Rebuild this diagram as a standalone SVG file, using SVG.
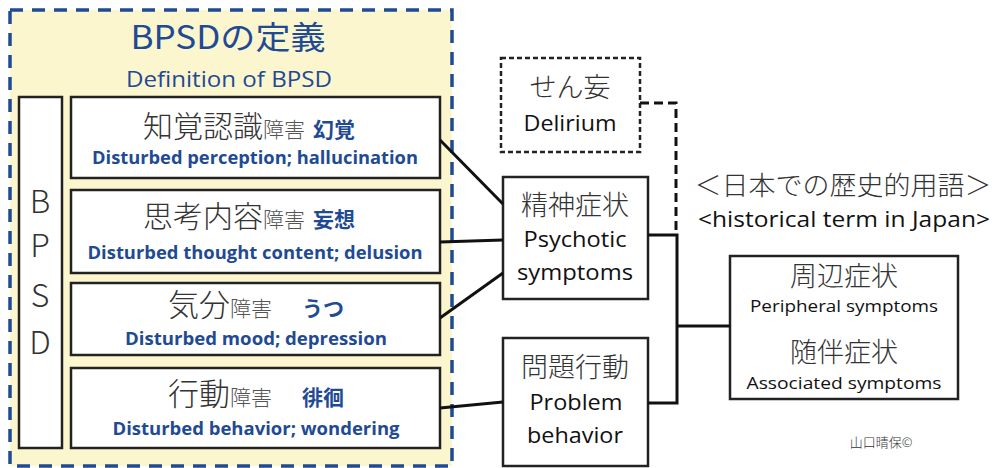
<svg xmlns="http://www.w3.org/2000/svg" width="995" height="468" viewBox="0 0 995 468">
<style>
.box{fill:#fff;stroke:#222;stroke-width:2.5}
.jp{font-family:"Noto Sans CJK JP",sans-serif;font-weight:300;fill:#333;text-anchor:middle}
.en{font-family:"Open Sans","Noto Sans",sans-serif;fill:#111;text-anchor:middle}
.enb{font-family:"Open Sans","Noto Sans",sans-serif;font-weight:bold;fill:#1f4a94;text-anchor:middle}
.blue{fill:#1f4a94}
.conn{stroke:#111;stroke-width:3;fill:none}
</style>
<rect width="995" height="468" fill="#fff"/>
<g id="definition">
<rect x="10" y="10" width="442" height="456" fill="#fcf6cf" stroke="#1f4a94" stroke-width="3.5" stroke-dasharray="13 9"/>
<text x="228" y="49" font-family="Noto Sans CJK JP,sans-serif" font-size="32" class="blue" text-anchor="middle" textLength="195" lengthAdjust="spacingAndGlyphs">BPSDの定義</text>
<text x="229" y="87" font-family="Open Sans,sans-serif" font-size="21" class="blue" text-anchor="middle" textLength="206" lengthAdjust="spacingAndGlyphs">Definition of BPSD</text>
</g>
<g id="bpsd">
<rect class="box" x="19" y="97" width="43" height="351"/>
<text class="jp" x="40" y="213" font-size="32" fill="#222">B</text>
<text class="jp" x="40" y="257" font-size="32" fill="#222">P</text>
<text class="jp" x="40" y="307" font-size="32" fill="#222">S</text>
<text class="jp" x="40" y="354" font-size="32" fill="#222">D</text>
</g>
<g id="perception">
<rect class="box" x="71" y="97" width="369" height="81"/>
<text x="208" y="137" class="jp" text-anchor="start" x-dummy="0"><tspan x="143" font-size="30" text-anchor="start">知覚認識</tspan><tspan font-size="21" fill="#555">障害</tspan><tspan font-size="21" font-weight="bold" class="blue" dx="8">幻覚</tspan></text>
<text class="enb" x="255" y="164" font-size="17" textLength="326" lengthAdjust="spacingAndGlyphs">Disturbed perception; hallucination</text>
</g>
<g id="thought">
<rect class="box" x="71" y="190" width="369" height="83"/>
<text class="jp" y="227" style="text-anchor:start"><tspan x="143" font-size="30">思考内容</tspan><tspan font-size="21" fill="#555">障害</tspan><tspan font-size="21" font-weight="bold" class="blue" dx="8">妄想</tspan></text>
<text class="enb" x="255" y="259" font-size="17" textLength="335" lengthAdjust="spacingAndGlyphs">Disturbed thought content; delusion</text>
</g>
<g id="mood">
<rect class="box" x="71" y="283" width="369" height="72"/>
<text class="jp" y="316" style="text-anchor:start"><tspan x="168" font-size="31">気分</tspan><tspan font-size="21" fill="#555">障害</tspan><tspan x="302" font-size="21" font-weight="bold" class="blue">うつ</tspan></text>
<text class="enb" x="256" y="345" font-size="17" textLength="262" lengthAdjust="spacingAndGlyphs">Disturbed mood; depression</text>
</g>
<g id="behavior">
<rect class="box" x="71" y="368" width="369" height="80"/>
<text class="jp" y="405" style="text-anchor:start"><tspan x="168" font-size="31">行動</tspan><tspan font-size="21" fill="#555">障害</tspan><tspan x="302" font-size="21" font-weight="bold" class="blue">徘徊</tspan></text>
<text class="enb" x="256" y="435" font-size="17" textLength="287" lengthAdjust="spacingAndGlyphs">Disturbed behavior; wondering</text>
</g>
<g id="delirium">
<rect x="501" y="58" width="139" height="94" fill="#fff" stroke="#222" stroke-width="2.5" stroke-dasharray="5 3"/>
<text class="jp" x="570" y="97" font-size="27">せん妄</text>
<text class="en" x="570" y="131" font-size="22" textLength="93" lengthAdjust="spacingAndGlyphs">Delirium</text>
</g>
<g id="psychotic">
<rect class="box" x="503" y="177" width="145" height="122"/>
<text class="jp" x="575" y="215" font-size="27">精神症状</text>
<text class="en" x="575" y="247" font-size="22" textLength="103" lengthAdjust="spacingAndGlyphs">Psychotic</text>
<text class="en" x="575" y="280" font-size="22" textLength="116" lengthAdjust="spacingAndGlyphs">symptoms</text>
</g>
<g id="problem">
<rect class="box" x="503" y="338" width="145" height="128"/>
<text class="jp" x="575" y="377" font-size="27">問題行動</text>
<text class="en" x="576" y="410" font-size="22" textLength="93" lengthAdjust="spacingAndGlyphs">Problem</text>
<text class="en" x="575" y="443" font-size="22" textLength="96" lengthAdjust="spacingAndGlyphs">behavior</text>
</g>
<g id="historical">
<text class="jp" x="843" y="195" font-size="26" textLength="297" lengthAdjust="spacingAndGlyphs">＜日本での歴史的用語＞</text>
<text class="en" x="844" y="227" font-size="21" textLength="292" lengthAdjust="spacingAndGlyphs">&lt;historical term in Japan&gt;</text>
</g>
<g id="peripheral">
<rect class="box" x="730" y="256" width="228" height="143"/>
<text class="jp" x="844" y="286" font-size="27">周辺症状</text>
<text class="en" x="844" y="312" font-size="17" textLength="188" lengthAdjust="spacingAndGlyphs">Peripheral symptoms</text>
<text class="jp" x="844" y="362" font-size="27">随伴症状</text>
<text class="en" x="844" y="389" font-size="17" textLength="195" lengthAdjust="spacingAndGlyphs">Associated symptoms</text>
</g>
<g id="credit">
<text class="jp" x="881" y="447" font-size="13" font-weight="400" fill="#222">山口晴保©</text>
</g>
<g id="connectors">
<line class="conn" x1="440" y1="140" x2="503" y2="204"/>
<line class="conn" x1="440" y1="242" x2="503" y2="240"/>
<line class="conn" x1="440" y1="318" x2="503" y2="273"/>
<line class="conn" x1="440" y1="408" x2="503" y2="402"/>
<polyline class="conn" points="648,235 677,235 677,403 648,403"/>
<line class="conn" x1="677" y1="326" x2="730" y2="326"/>
<polyline class="conn" points="640,103 676,103 676,233" stroke-dasharray="9 5"/>
</g>
</svg>
